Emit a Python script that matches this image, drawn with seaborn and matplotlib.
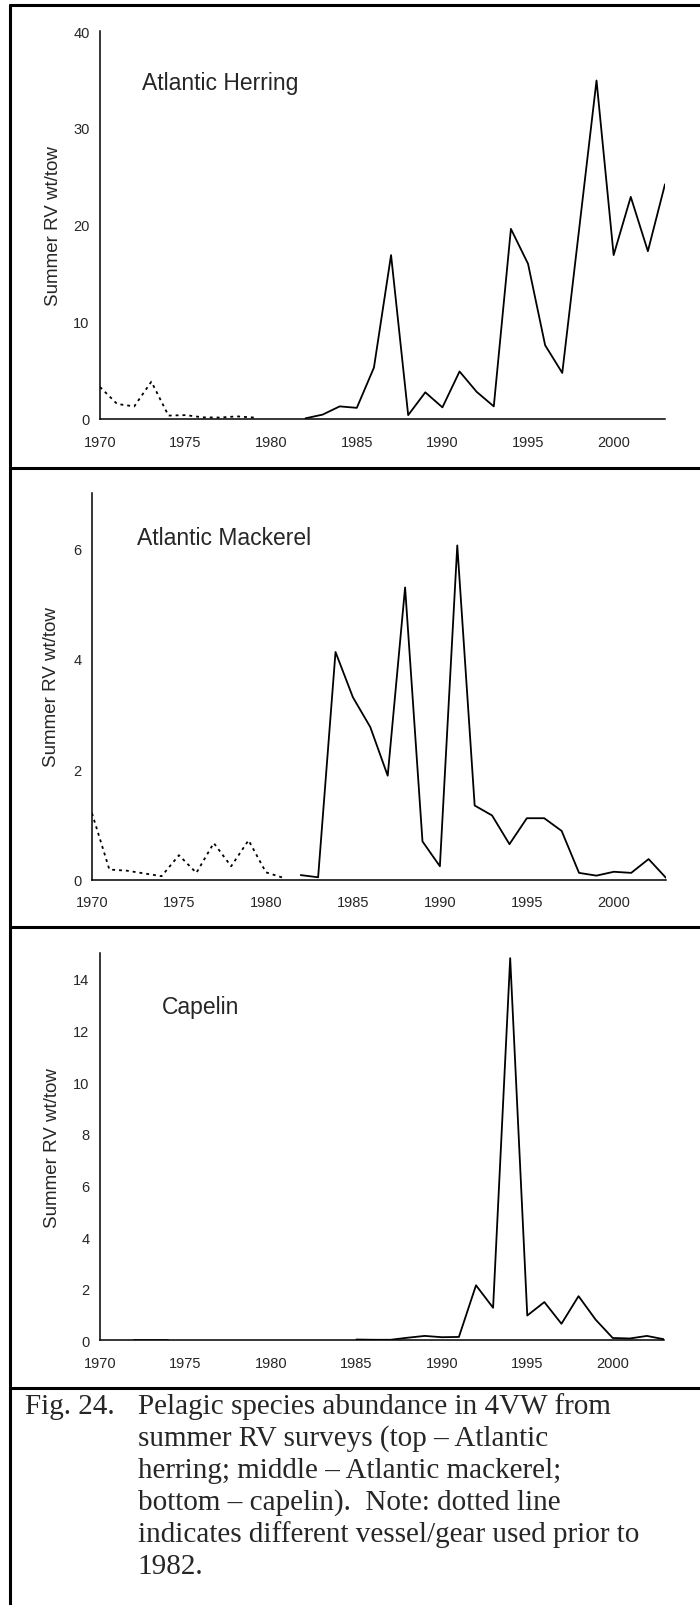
#!/usr/bin/env python3

import matplotlib
matplotlib.use("Agg")
import matplotlib.pyplot as plt
from matplotlib.lines import Line2D
import numpy as np
import pandas as pd
import seaborn as sns

# herring (top panel)
herring_early_years = list(range(1970, 1980))
herring_early = [3.3, 1.55, 1.3, 3.85, 0.35, 0.4, 0.17, 0.15, 0.27, 0.15]
herring_years = list(range(1982, 2004))
herring = [0.07, 0.45, 1.3, 1.15, 5.3, 16.9, 0.4, 2.75, 1.2, 4.9, 2.8,
           1.3, 19.6, 16.0, 7.6, 4.75, 19.8, 34.9, 16.9, 22.9, 17.3, 24.2]

# mackerel (middle panel)
mackerel_early_years = list(range(1970, 1982))
mackerel_early = [1.2, 0.18, 0.16, 0.11, 0.06, 0.44, 0.12, 0.66, 0.24, 0.71, 0.13, 0.03]
mackerel_years = list(range(1982, 2004))
mackerel = [0.08, 0.04, 4.12, 3.3, 2.76, 1.88, 5.29, 0.69, 0.24, 6.05, 1.34,
            1.16, 0.64, 1.11, 1.11, 0.88, 0.12, 0.07, 0.14, 0.12, 0.37, 0.03]

# capelin (bottom panel)
capelin_early_years = [1972, 1973, 1974]
capelin_early = [0.0, 0.0, 0.0]
capelin_years = list(range(1985, 2004))
capelin = [0.03, 0.02, 0.02, 0.1, 0.17, 0.12, 0.13, 2.13, 1.26, 14.8,
           0.96, 1.48, 0.64, 1.71, 0.8, 0.09, 0.07, 0.17, 0.04]

panel_titles = ["Atlantic Herring", "Atlantic Mackerel", "Capelin"]
ylabel = "Summer RV wt/tow"
xticks = [1970, 1975, 1980, 1985, 1990, 1995, 2000]

caption_head = "Fig. 24."
caption_lines = [
    "Pelagic species abundance in 4VW from",
    "summer RV surveys (top \u2013 Atlantic",
    "herring; middle \u2013 Atlantic mackerel;",
    "bottom \u2013 capelin).  Note: dotted line",
    "indicates different vessel/gear used prior to",
    "1982.",
]

sns.set_style("white")
plt.rcParams["font.family"] = ["Liberation Sans", "DejaVu Sans"]

W, H = 700, 1606
fig = plt.figure(figsize=(W / 100, H / 100), dpi=100)


def box(left, right, top, bottom):
    return [left / W, 1 - bottom / H, (right - left) / W, (bottom - top) / H]


panels = [
    dict(rect=box(100, 665, 32, 420), ylim=40, yticks=[0, 10, 20, 30, 40],
         early=(herring_early_years, herring_early, "black"),
         main=(herring_years, herring), title_xy=(0.074, 0.851), label_x=-0.068),
    dict(rect=box(92, 666, 494, 880.5), ylim=7, yticks=[0, 2, 4, 6],
         early=(mackerel_early_years, mackerel_early, "black"),
         main=(mackerel_years, mackerel), title_xy=(0.078, 0.868), label_x=-0.055),
    dict(rect=box(100, 664, 954, 1341.3), ylim=15, yticks=list(range(0, 15, 2)),
         early=(capelin_early_years, capelin_early, "#1a1a8c"),
         main=(capelin_years, capelin), title_xy=(0.110, 0.845), label_x=-0.069),
]

for p, title in zip(panels, panel_titles):
    ax = fig.add_axes(p["rect"])
    ex, ey, ecol = p["early"]
    if ecol == "black":
        sns.lineplot(x=ex, y=ey, ax=ax, color=ecol, linewidth=1.3,
                     linestyle=(0, (1.6, 2.2)))
    else:
        sns.lineplot(x=ex, y=ey, ax=ax, color=ecol, linewidth=1.3)
    mx, my = p["main"]
    sns.lineplot(x=mx, y=my, ax=ax, color="black", linewidth=1.3)

    ax.set_xlim(1970, 2003)
    ax.set_ylim(0, p["ylim"])
    ax.set_xticks(xticks)
    ax.set_yticks(p["yticks"])
    ax.tick_params(axis="both", direction="out", length=4.5, width=1.0,
                   color="black", labelsize=10.5)
    ax.tick_params(axis="x", pad=7)
    ax.tick_params(axis="y", pad=3)
    sns.despine(ax=ax)
    for s in ("left", "bottom"):
        ax.spines[s].set_linewidth(1.1)
        ax.spines[s].set_color("black")
    ax.set_ylabel(ylabel, fontsize=13.5)
    ax.yaxis.set_label_coords(p["label_x"], 0.5)
    ax.set_xlabel("")
    tx, ty = p["title_xy"]
    ax.text(tx, ty, title, transform=ax.transAxes, fontsize=16.5,
            ha="left", va="baseline")
    ax.patch.set_alpha(0)

# frame lines around panels and caption
frame_lw = 2.2
def hline(y, x0=10, x1=700):
    fig.add_artist(Line2D([x0 / W, x1 / W], [1 - y / H, 1 - y / H],
                          transform=fig.transFigure, color="black", lw=frame_lw))

fig.add_artist(Line2D([10 / W, 10 / W], [1 - 6 / H, 0],
                      transform=fig.transFigure, color="black", lw=frame_lw))
for y in (6, 469, 928, 1389):
    hline(y)

# caption
serif = ["Liberation Serif", "DejaVu Serif"]
base = 1414
step = 32
fig.text(25 / W, 1 - base / H, caption_head, family=serif, fontsize=21,
         ha="left", va="baseline")
for i, line in enumerate(caption_lines):
    fig.text(137.5 / W, 1 - (base + i * step) / H, line, family=serif,
             fontsize=21, ha="left", va="baseline")

fig.savefig("out.png", dpi=100, facecolor="white")
